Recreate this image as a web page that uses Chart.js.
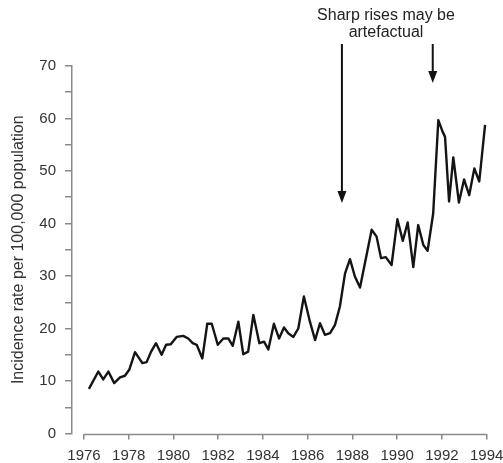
<!DOCTYPE html>
<html>
<head>
<meta charset="utf-8">
<script src="https://cdn.jsdelivr.net/npm/chart.js@4.4.1/dist/chart.umd.min.js"></script>
<style>
  html, body { margin: 0; padding: 0; background: #fff; }
  canvas { display: block; }
</style>
</head>
<body>
<canvas id="incidencia" width="503" height="463"></canvas>
<script>
// Serie de incidencia (fecha decimal, tasa por 100.000 habitantes)
const fechas = [
  1976.22, 1976.64, 1976.86, 1977.09, 1977.35, 1977.61, 1977.83, 1978.03, 1978.28, 1978.61,
  1978.80, 1979.00, 1979.22, 1979.47, 1979.67, 1979.88, 1980.14, 1980.44, 1980.66, 1980.86,
  1981.04, 1981.29, 1981.51, 1981.71, 1981.98, 1982.23, 1982.45, 1982.65, 1982.90, 1983.12,
  1983.34, 1983.57, 1983.84, 1984.05, 1984.24, 1984.49, 1984.72, 1984.94, 1985.13, 1985.36,
  1985.58, 1985.83, 1986.10, 1986.33, 1986.55, 1986.77, 1987.00, 1987.22, 1987.44, 1987.67,
  1987.89, 1988.11, 1988.34, 1988.86, 1989.08, 1989.28, 1989.49, 1989.75, 1990.01, 1990.25,
  1990.47, 1990.72, 1990.94, 1991.17, 1991.36, 1991.61, 1991.84, 1992.03, 1992.14, 1992.32,
  1992.51, 1992.76, 1992.99, 1993.22, 1993.45, 1993.67, 1993.93
];
const tasas = [
  8.5, 11.8, 10.3, 11.8, 9.6, 10.7, 11.0, 12.2, 15.5, 13.4,
  13.6, 15.6, 17.2, 15.0, 16.9, 17.0, 18.4, 18.6, 18.1, 17.2,
  16.9, 14.3, 20.9, 20.9, 16.9, 18.1, 18.1, 16.7, 21.3, 15.1,
  15.6, 22.6, 17.2, 17.5, 16.0, 20.9, 18.1, 20.2, 19.1, 18.4,
  20.0, 26.1, 21.3, 17.8, 21.0, 18.8, 19.1, 20.7, 24.2, 30.5,
  33.2, 29.9, 27.8, 38.8, 37.5, 33.4, 33.6, 32.1, 40.8, 36.7,
  40.2, 31.7, 39.7, 35.9, 34.8, 41.9, 59.7, 57.5, 56.5, 44.2,
  52.6, 44.0, 48.4, 45.4, 50.5, 48.0, 58.8
];
const aniosEje = [1976, 1978, 1980, 1982, 1984, 1986, 1988, 1990, 1992, 1994];
// Flechas: año al que apuntan
const flechas = [1987.53, 1991.59];

const fuente = '"Liberation Sans", Arial, sans-serif';
const gris = '#8a8a8a';

// Ejes al estilo R: eje x separado que va de 1976 a 1994, y la nota con flechas
const ejesYNotas = {
  id: 'ejesYNotas',
  afterDraw(chart) {
    const { ctx, chartArea, scales } = chart;
    const x = scales.x;
    ctx.save();
    // línea del eje x
    ctx.strokeStyle = gris;
    ctx.lineWidth = 1.5;
    ctx.beginPath();
    ctx.moveTo(x.getPixelForValue(aniosEje[0]), chartArea.bottom + 1);
    ctx.lineTo(x.getPixelForValue(aniosEje[aniosEje.length - 1]), chartArea.bottom + 1);
    ctx.stroke();

    // texto de la nota
    ctx.fillStyle = '#222';
    ctx.font = '16px ' + fuente;
    ctx.textAlign = 'center';
    ctx.textBaseline = 'middle';
    ctx.fillText('Sharp rises may be', 386, 16);
    ctx.fillText('artefactual', 386, 33);

    // flechas
    const puntas = [203, 83];
    ctx.strokeStyle = '#111';
    ctx.fillStyle = '#111';
    ctx.lineWidth = 2;
    flechas.forEach((anio, i) => {
      const px = x.getPixelForValue(anio);
      const tip = puntas[i];
      ctx.beginPath();
      ctx.moveTo(px, 44);
      ctx.lineTo(px, tip - 10);
      ctx.stroke();
      ctx.beginPath();
      ctx.moveTo(px - 4.5, tip - 12);
      ctx.lineTo(px + 4.5, tip - 12);
      ctx.lineTo(px, tip);
      ctx.closePath();
      ctx.fill();
    });
    ctx.restore();
  }
};

const ctx = document.getElementById('incidencia').getContext('2d');
new Chart(ctx, {
  type: 'line',
  data: {
    datasets: [{
      data: fechas.map((f, i) => ({ x: f, y: tasas[i] })),
      borderColor: '#141414',
      borderWidth: 2.4,
      borderJoinStyle: 'round',
      pointRadius: 0,
      tension: 0,
      fill: false
    }]
  },
  options: {
    responsive: false,
    animation: false,
    layout: { padding: { top: 66, right: 13, left: 0, bottom: 0 } },
    plugins: { legend: { display: false }, tooltip: { enabled: false } },
    scales: {
      x: {
        type: 'linear',
        min: 1975.4636,
        max: 1994.15,
        afterBuildTicks(axis) {
          axis.ticks = aniosEje.map(v => ({ value: v }));
        },
        afterFit(axis) {
          axis.height = 29.5;
          // las etiquetas pueden salirse del área; no encoger el gráfico por ellas
          axis.paddingLeft = 0;
          axis.paddingRight = 0;
        },
        border: { display: false },
        grid: { drawOnChartArea: false, drawTicks: true, tickLength: 6, color: gris, lineWidth: 1.5 },
        ticks: {
          autoSkip: false,
          maxRotation: 0,
          padding: 7,
          color: '#333',
          font: { family: fuente, size: 15 },
          callback: v => String(v)
        }
      },
      y: {
        min: 0,
        max: 70,
        afterFit(axis) { axis.width = 72; },
        border: { display: true, color: gris, width: 1.5 },
        grid: { drawOnChartArea: false, drawTicks: true, tickLength: 7, color: gris, lineWidth: 1.5 },
        ticks: {
          stepSize: 5,
          padding: 9,
          color: '#333',
          font: { family: fuente, size: 15 },
          callback: v => (v % 10 === 0 ? String(v) : '')
        },
        title: {
          display: true,
          text: 'Incidence rate per 100,000 population',
          color: '#333',
          font: { family: fuente, size: 16 },
          padding: { top: 9, bottom: 0 }
        }
      }
    }
  },
  plugins: [ejesYNotas]
});
</script>
</body>
</html>
